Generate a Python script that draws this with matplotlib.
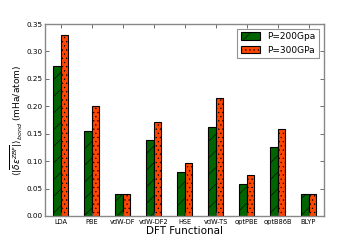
import matplotlib
matplotlib.use('Agg')
import matplotlib.pyplot as plt
import numpy as np

# Values
functionals = ['LDA', 'PBE', 'vdW-DF', 'vdW-DF2', 'HSE', 'vdW-TS', 'optPBE', 'optB86B', 'BLYP']
p200 = [0.273, 0.155, 0.040, 0.138, 0.080, 0.162, 0.058, 0.125, 0.041]
p300 = [0.330, 0.201, 0.041, 0.172, 0.097, 0.216, 0.074, 0.158, 0.041]
yticks = [0.00, 0.05, 0.10, 0.15, 0.20, 0.25, 0.30, 0.35]

plt.rcParams['hatch.linewidth'] = 0.4
fig = plt.figure(figsize=(3.6, 2.4), dpi=100)
ax = fig.add_axes([0.125, 0.1, 0.775, 0.8])

x = np.arange(len(functionals))
w = 0.25
ax.bar(x, p200, w, align='edge', color='#006400', edgecolor='black',
       linewidth=0.8, hatch='//', label='P=200Gpa')
ax.bar(x + w, p300, w, align='edge', color='#ff4500', edgecolor='black',
       linewidth=0.8, hatch='....', label='P=300GPa')

ax.set_xlim(-0.25, len(functionals) - 0.25)
ax.set_ylim(0, 0.35)
ax.set_xticks(x + w)
ax.set_xticklabels(functionals, fontsize=4.8)
ax.set_yticks(yticks)
ax.set_yticklabels(['%.2f' % t for t in yticks], fontsize=5.2)
ax.tick_params(direction='in', length=3, width=0.6, color='#555555', top=True, right=True, pad=2)
for s in ax.spines.values():
    s.set_color('#888888')
    s.set_linewidth(1.0)

ax.set_xlabel('DFT Functional', fontsize=7.5, labelpad=1)
ax.set_ylabel(r'$\langle|\overline{\delta\epsilon^{ZBF}}|\rangle_{bond}$ (mHa/atom)', fontsize=6.5, labelpad=0.5)

leg = ax.legend(loc='upper right', fontsize=6.5, fancybox=False, handlelength=2.2,
                borderaxespad=0.5, handleheight=0.9)
leg.get_frame().set_edgecolor('#777777')
leg.get_frame().set_linewidth(0.8)

plt.savefig('out.png', dpi=100)
